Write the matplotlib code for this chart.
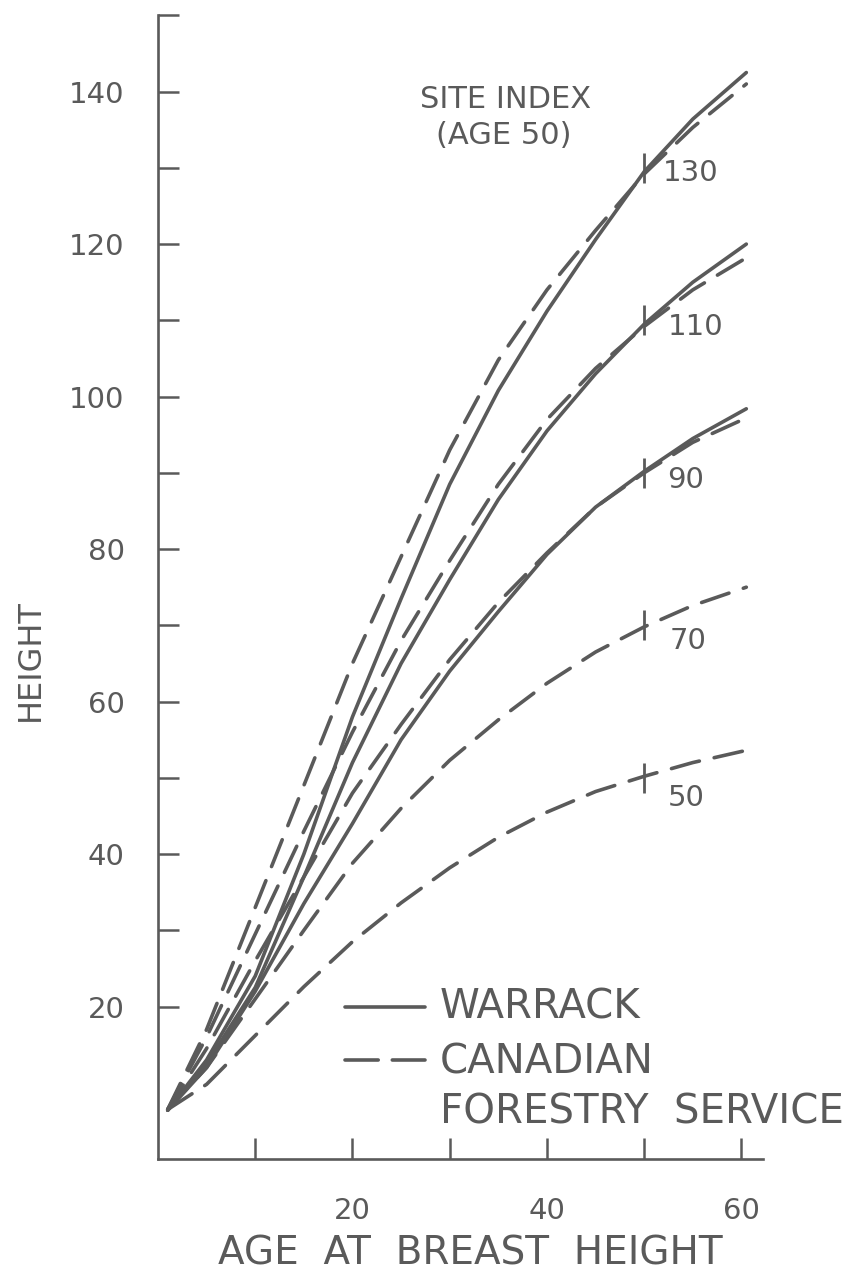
import matplotlib
matplotlib.use("Agg")
import matplotlib.pyplot as plt
from matplotlib.lines import Line2D

# ---------------- data ----------------
age = [1, 5, 10, 15, 20, 25, 30, 35, 40, 45, 50, 55, 60.5]

warrack_130 = [6.4, 13, 24, 40, 58, 73.5, 88.5, 100.8, 111.2, 120.6, 129.5, 136.4, 142.5]
warrack_110 = [6.4, 12.5, 22.5, 37, 52, 65, 76, 86.5, 95.5, 103, 109.5, 115, 120]
warrack_90 = [6.4, 12, 22, 33.5, 44, 55, 64, 71.8, 79.3, 85.5, 90.2, 94.5, 98.4]

cfs_130 = [6.5, 17, 33, 49, 65, 79, 93, 104.8, 114, 121.8, 129.2, 135.3, 141]
cfs_110 = [6.5, 16, 29.5, 43, 56, 68, 78.5, 88.5, 97, 103.7, 109.2, 114, 118.2]
cfs_90 = [6.5, 14.5, 26, 37, 48, 57, 65.5, 73, 79.5, 85.5, 90, 94, 97.2]
cfs_70 = [6.5, 12, 21, 30, 38.8, 46, 52.3, 57.6, 62.4, 66.5, 69.8, 72.6, 75]
cfs_50 = [6.5, 9.8, 16.2, 22.6, 28.5, 33.6, 38.2, 42.2, 45.5, 48.2, 50.2, 52, 53.6]

site_index = [130, 110, 90, 70, 50]
site_label = ["130", "110", "90", "70", "50"]

x_ticks = [10, 20, 30, 40, 50, 60]
x_ticklabels = ["", "20", "", "40", "", "60"]
y_ticks = [20, 30, 40, 50, 60, 70, 80, 90, 100, 110, 120, 130, 140, 150]
y_ticklabels = ["20", "", "40", "", "60", "", "80", "", "100", "", "120", "", "140", ""]

# ---------------- style ----------------
INK = "#5a5a5a"
LW = 2.6
DASH = (0, (8, 4.2))
FONT = "DejaVu Sans"

fig = plt.figure(figsize=(8.61, 12.80), dpi=100)
ax = fig.add_axes([0.1835, 0.0945, 0.7025, 0.8935])
ax.set_xlim(0, 62.2)
ax.set_ylim(0, 150)

for ys in (warrack_130, warrack_110, warrack_90):
    ax.plot(age, ys, color=INK, lw=LW, solid_capstyle="round",
            solid_joinstyle="round")
for ys in (cfs_130, cfs_110, cfs_90, cfs_70, cfs_50):
    ax.plot(age, ys, color=INK, lw=LW, linestyle=DASH, dash_capstyle="round",
            dash_joinstyle="round")

# site index marks at age 50 and labels
label_dy = [0.7, 0.9, 1.0, 2.0, 2.7]
label_x = [51.9, 52.4, 52.4, 52.6, 52.4]
for si, lab, dy, lx in zip(site_index, site_label, label_dy, label_x):
    ax.plot([50], [si], marker="|", markersize=22, markeredgewidth=2.0,
            color=INK)
    ax.text(lx, si - dy, lab, fontsize=21, color=INK, family=FONT,
            ha="left", va="center")

ax.text(35.7, 138.9, "SITE INDEX", fontsize=22, color=INK, family=FONT,
        ha="center", va="center")
ax.text(35.6, 134.3, "(AGE 50)", fontsize=22, color=INK, family=FONT,
        ha="center", va="center")

# spines & ticks
for s in ("top", "right"):
    ax.spines[s].set_visible(False)
for s in ("left", "bottom"):
    ax.spines[s].set_color(INK)
    ax.spines[s].set_linewidth(1.9)

ax.set_xticks(x_ticks)
ax.set_xticklabels(x_ticklabels)
ax.set_yticks(y_ticks)
ax.set_yticklabels(y_ticklabels)
ax.tick_params(axis="both", direction="in", length=15, width=1.8, color=INK,
               labelcolor=INK, labelsize=21)
ax.tick_params(axis="x", pad=27)
ax.tick_params(axis="y", pad=24)
for lbl in ax.get_xticklabels() + ax.get_yticklabels():
    lbl.set_family(FONT)

ax.set_xlabel("AGE  AT  BREAST  HEIGHT", fontsize=28, color=INK, family=FONT,
              va="center", ha="center")
ax.xaxis.set_label_coords(0.516, -0.083)
ax.set_ylabel("HEIGHT", fontsize=23, color=INK, family=FONT,
              va="center", ha="center")
ax.yaxis.set_label_coords(-0.2116, 0.436)

# legend (drawn manually)
tr = ax.transAxes
ax.add_line(Line2D([0.309, 0.441], [0.1329, 0.1329], transform=tr,
                   color=INK, lw=LW, solid_capstyle="round"))
ax.add_line(Line2D([0.309, 0.441], [0.0865, 0.0865], transform=tr,
                   color=INK, lw=LW, linestyle=(0, (9.2, 3.9)),
                   dash_capstyle="round"))
ax.text(0.466, 0.1329, "WARRACK", transform=tr, fontsize=29, color=INK,
        family=FONT, ha="left", va="center")
ax.text(0.466, 0.0848, "CANADIAN", transform=tr, fontsize=29, color=INK,
        family=FONT, ha="left", va="center")
ax.text(0.466, 0.0411, "FORESTRY  SERVICE", transform=tr, fontsize=29,
        color=INK, family=FONT, ha="left", va="center")

fig.savefig("out.png", dpi=100, facecolor="white")
